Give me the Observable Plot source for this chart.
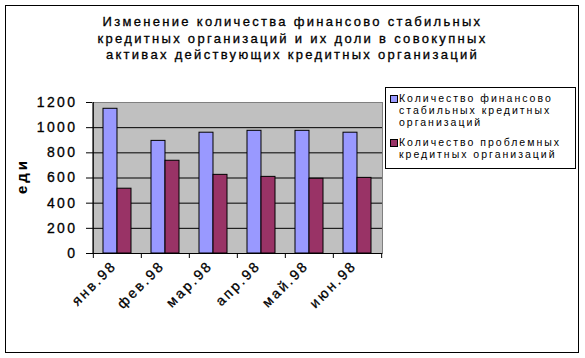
<!DOCTYPE html>
<html><head><meta charset="utf-8">
<script src="https://cdn.jsdelivr.net/npm/d3@7"></script>
<script src="https://cdn.jsdelivr.net/npm/@observablehq/plot@0.6"></script>
<style>
body{margin:0;background:#fff;font-family:"Liberation Sans",Arial,sans-serif;}
#wrap{position:relative;width:585px;height:358px;overflow:hidden;}
#border{position:absolute;left:5px;top:5px;width:572px;height:346px;border:1px solid #000;}
#title{position:absolute;left:0;top:14px;width:585px;text-align:center;font-size:13px;line-height:16.5px;letter-spacing:2.3px;color:#000;-webkit-text-stroke:0.3px #000;}
#chart{position:absolute;left:0;top:80px;}
#legend{position:absolute;left:385px;top:87px;width:189px;height:80px;border:1px solid #000;font-size:10.5px;letter-spacing:2px;line-height:12px;}
.item{position:absolute;left:13px;white-space:nowrap;}
.sw{position:absolute;left:-9px;top:3px;width:6px;height:6px;border:1px solid #000;}
#ylab{position:absolute;left:21px;top:176px;transform:translate(-50%,-50%) rotate(-90deg);font-size:15px;font-weight:bold;letter-spacing:3px;white-space:nowrap;}
</style></head>
<body>
<div id="wrap">
<div id="border"></div>
<div id="title"></div>
<div id="ylab"></div>
<div id="chart"></div>
<div id="legend"></div>
</div>
<script>
const titleLines = ["Изменение количества финансово стабильных","кредитных организаций и их доли в совокупных","активах действующих кредитных организаций"];
const categories = ["янв.98","фев.98","мар.98","апр.98","май.98","июн.98"];
const stable = [1150, 895, 960, 975, 975, 960];
const problem = [515, 737, 625, 609, 594, 601];
const seriesNames = ["Количество финансово стабильных кредитных организаций","Количество проблемных кредитных организаций"];
const legendLines = [["Количество финансово","стабильных кредитных","организаций"],["Количество проблемных","кредитных организаций"]];
const seriesColors = ["#9999FF","#993366"];
const yTicks = [0,200,400,600,800,1000,1200];
const yLabel = "еди";

document.getElementById("title").innerHTML = titleLines.join("<br>");
document.getElementById("ylab").textContent = yLabel;

const leg = document.getElementById("legend");
let itemTop = 4;
legendLines.forEach((lines,i)=>{
  const d = document.createElement("div");
  d.className = "item"; d.style.top = itemTop + "px";
  d.innerHTML = `<div class="sw" style="background:${seriesColors[i]}"></div>` + lines.join("<br>");
  leg.appendChild(d);
  itemTop += lines.length*12 + 8;
});

const data = [];
categories.forEach((c,i)=>{
  data.push({cat:c, series:seriesNames[0], value:stable[i]});
  data.push({cat:c, series:seriesNames[1], value:problem[i]});
});

const W = 400, H = 240, mL = 92, mR = 18, mT = 22, mB = 67;
const pad = 0.42;
const step = (W - mL - mR) / categories.length;
const bw = step * (1 - pad);

const chart = Plot.plot({
  width: W, height: H,
  marginLeft: mL, marginRight: mR, marginTop: mT, marginBottom: mB,
  style: {fontFamily: "Liberation Sans, Arial, sans-serif", fontSize: "12px", color: "#000", background: "transparent", overflow: "visible"},
  x: {type: "band", domain: categories, paddingInner: pad, paddingOuter: pad/2, axis: null, label: null},
  y: {domain: [0, 1200], axis: null, label: null},
  marks: [
    Plot.frame({fill: "#C0C0C0", stroke: "#808080"}),
    Plot.ruleY(yTicks.filter(t => t > 0 && t < 1200), {stroke: "#000", strokeWidth: 1}),
    Plot.barY(data.filter(d => d.series === seriesNames[0]), {x: "cat", y: "value", fill: seriesColors[0], stroke: "#000", strokeWidth: 1, insetRight: bw/2}),
    Plot.barY(data.filter(d => d.series === seriesNames[1]), {x: "cat", y: "value", fill: seriesColors[1], stroke: "#000", strokeWidth: 1, insetLeft: bw/2}),
    Plot.ruleX([0], {x: () => categories[0], dx: -step/2, stroke: "#000"}),
    Plot.ruleY([0], {stroke: "#000"}),
    Plot.axisY({ticks: yTicks, tickSize: 6, tickPadding: 9, fontSize: 14, stroke: "#000", label: null, tickFormat: d => String(d)}),
    Plot.axisX({ticks: categories, tickSize: 5, tickFormat: () => "", dx: -step/2, label: null}),
    Plot.axisX({ticks: [categories[categories.length-1]], tickSize: 5, tickFormat: () => "", dx: step/2, label: null}),
    Plot.text(categories, {x: d => d, frameAnchor: "bottom", rotate: -45, textAnchor: "end", dx: -7, dy: 6, fontSize: 14, lineAnchor: "top"})
  ]
});
chart.querySelectorAll("text").forEach(t => { t.style.letterSpacing = "2.4px"; t.style.stroke = "#000"; t.style.strokeWidth = "0.3px"; });
document.getElementById("chart").appendChild(chart);
</script>
</body></html>
